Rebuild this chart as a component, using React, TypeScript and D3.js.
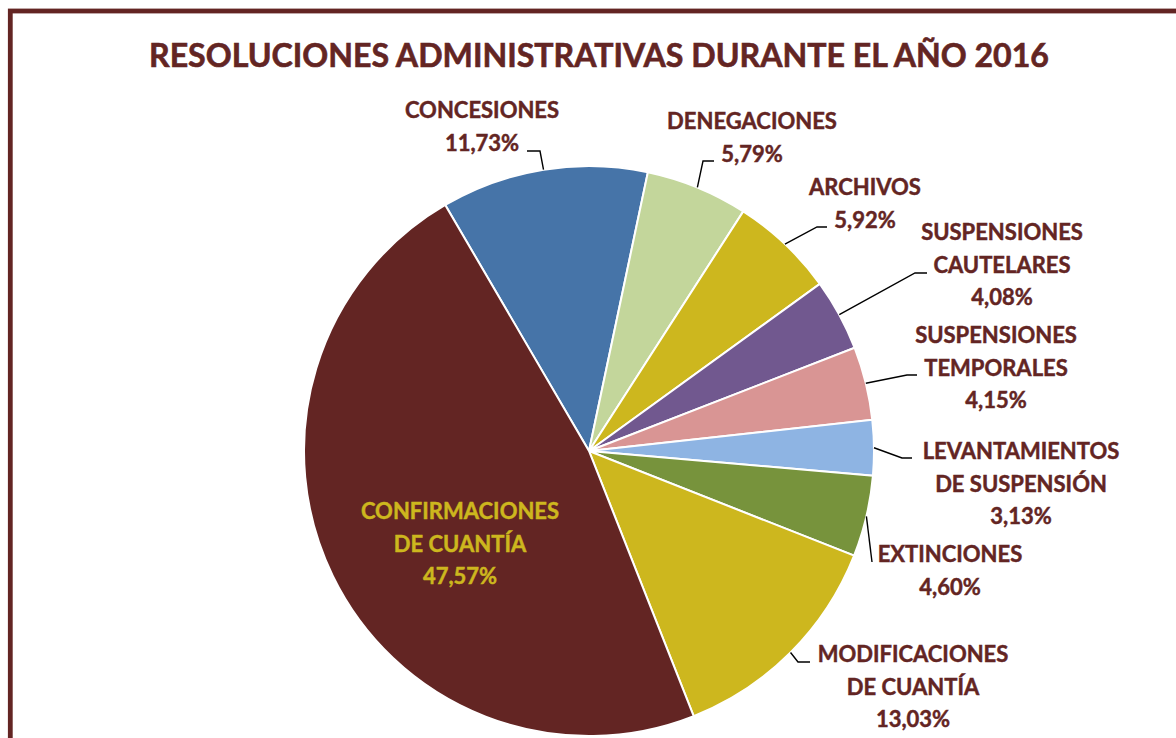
import React from 'react';
import * as d3 from 'd3';

// slice order clockwise from the Concesiones/Confirmaciones boundary
const categories = [
  ['CONCESIONES'],
  ['DENEGACIONES'],
  ['ARCHIVOS'],
  ['SUSPENSIONES', 'CAUTELARES'],
  ['SUSPENSIONES', 'TEMPORALES'],
  ['LEVANTAMIENTOS', 'DE SUSPENSIÓN'],
  ['EXTINCIONES'],
  ['MODIFICACIONES', 'DE CUANTÍA'],
  ['CONFIRMACIONES', 'DE CUANTÍA'],
];
const values = [11.73, 5.79, 5.92, 4.08, 4.15, 3.13, 4.6, 13.03, 47.57];
const colors = ['#4674A8', '#C3D69B', '#CDB71E', '#71588F', '#D99594', '#8EB4E3', '#77933C', '#CDB71E', '#632523'];

// label layout: text centre x, first baseline y, leader elbow and end (null = label inside the slice)
const labelLayout = [
  { x: 482, y: 118, elbow: [540, 151], end: [527, 151] },
  { x: 752, y: 129, elbow: [703, 161], end: [714, 161] },
  { x: 865, y: 195, elbow: [817, 227], end: [827, 227] },
  { x: 1002, y: 240, elbow: [915, 273], end: [927, 273] },
  { x: 996, y: 343, elbow: [907, 375], end: [917, 375] },
  { x: 1021, y: 459, elbow: [902, 458], end: [912, 458] },
  { x: 950, y: 562, elbow: [872, 562], end: [872, 562] },
  { x: 913, y: 662, elbow: [798, 662], end: [810, 662] },
  { x: 460, y: 519, elbow: null, end: null },
];

const W = 1176;
const H = 738;
const cx = 589;
const cy = 451;
const R = 285;
const maroon = '#632523';
const font = 'Lato, "Open Sans", sans-serif';

const fmt = (v: number) => v.toFixed(2).replace('.', ',') + '%';

export default function App() {
  const start = (-30.3 * Math.PI) / 180;
  const pie = d3.pie<number>().sort(null).startAngle(start).endAngle(start + 2 * Math.PI);
  const arcs = pie(values);
  const arc = d3.arc<d3.PieArcDatum<number>>().innerRadius(0).outerRadius(R);
  const lineH = 32.5;

  return (
    <svg width={W} height={H} style={{ position: 'absolute', left: 0, top: 0, background: '#fff' }}>
      <rect x={10.3} y={11} width={W + 20} height={H + 20} fill="#fff" stroke={maroon} strokeWidth={4.8} />
      <text x={599} y={67} textAnchor="middle" fontFamily={font} fontWeight={700} fontSize={32} fill={maroon}
        stroke={maroon} strokeWidth={0.6} textLength={900} lengthAdjust="spacingAndGlyphs">
        RESOLUCIONES ADMINISTRATIVAS DURANTE EL AÑO 2016
      </text>
      <g transform={`translate(${cx},${cy})`}>
        {arcs.map((a, i) => (
          <path key={i} d={arc(a) || ''} fill={colors[i]} stroke="#fff" strokeWidth={2} />
        ))}
      </g>
      {arcs.map((a, i) => {
        const L = labelLayout[i];
        if (!L.elbow || !L.end) return null;
        const mid = (a.startAngle + a.endAngle) / 2;
        const sx = cx + R * Math.sin(mid);
        const sy = cy - R * Math.cos(mid);
        return (
          <polyline key={'l' + i} points={`${sx},${sy} ${L.elbow[0]},${L.elbow[1]} ${L.end[0]},${L.end[1]}`}
            fill="none" stroke="#000" strokeWidth={1.4} />
        );
      })}
      {categories.map((lines, i) => {
        const L = labelLayout[i];
        const inside = L.elbow === null;
        const c = inside ? '#CDB71E' : maroon;
        const all = [...lines, fmt(values[i])];
        return (
          <text key={'t' + i} textAnchor="middle" fontFamily={font} fontWeight={700} fontSize={22}
            fill={c} stroke={c} strokeWidth={0.45}>
            {all.map((s, j) => (
              <tspan key={j} x={L.x} y={L.y + j * lineH}>{s}</tspan>
            ))}
          </text>
        );
      })}
    </svg>
  );
}
